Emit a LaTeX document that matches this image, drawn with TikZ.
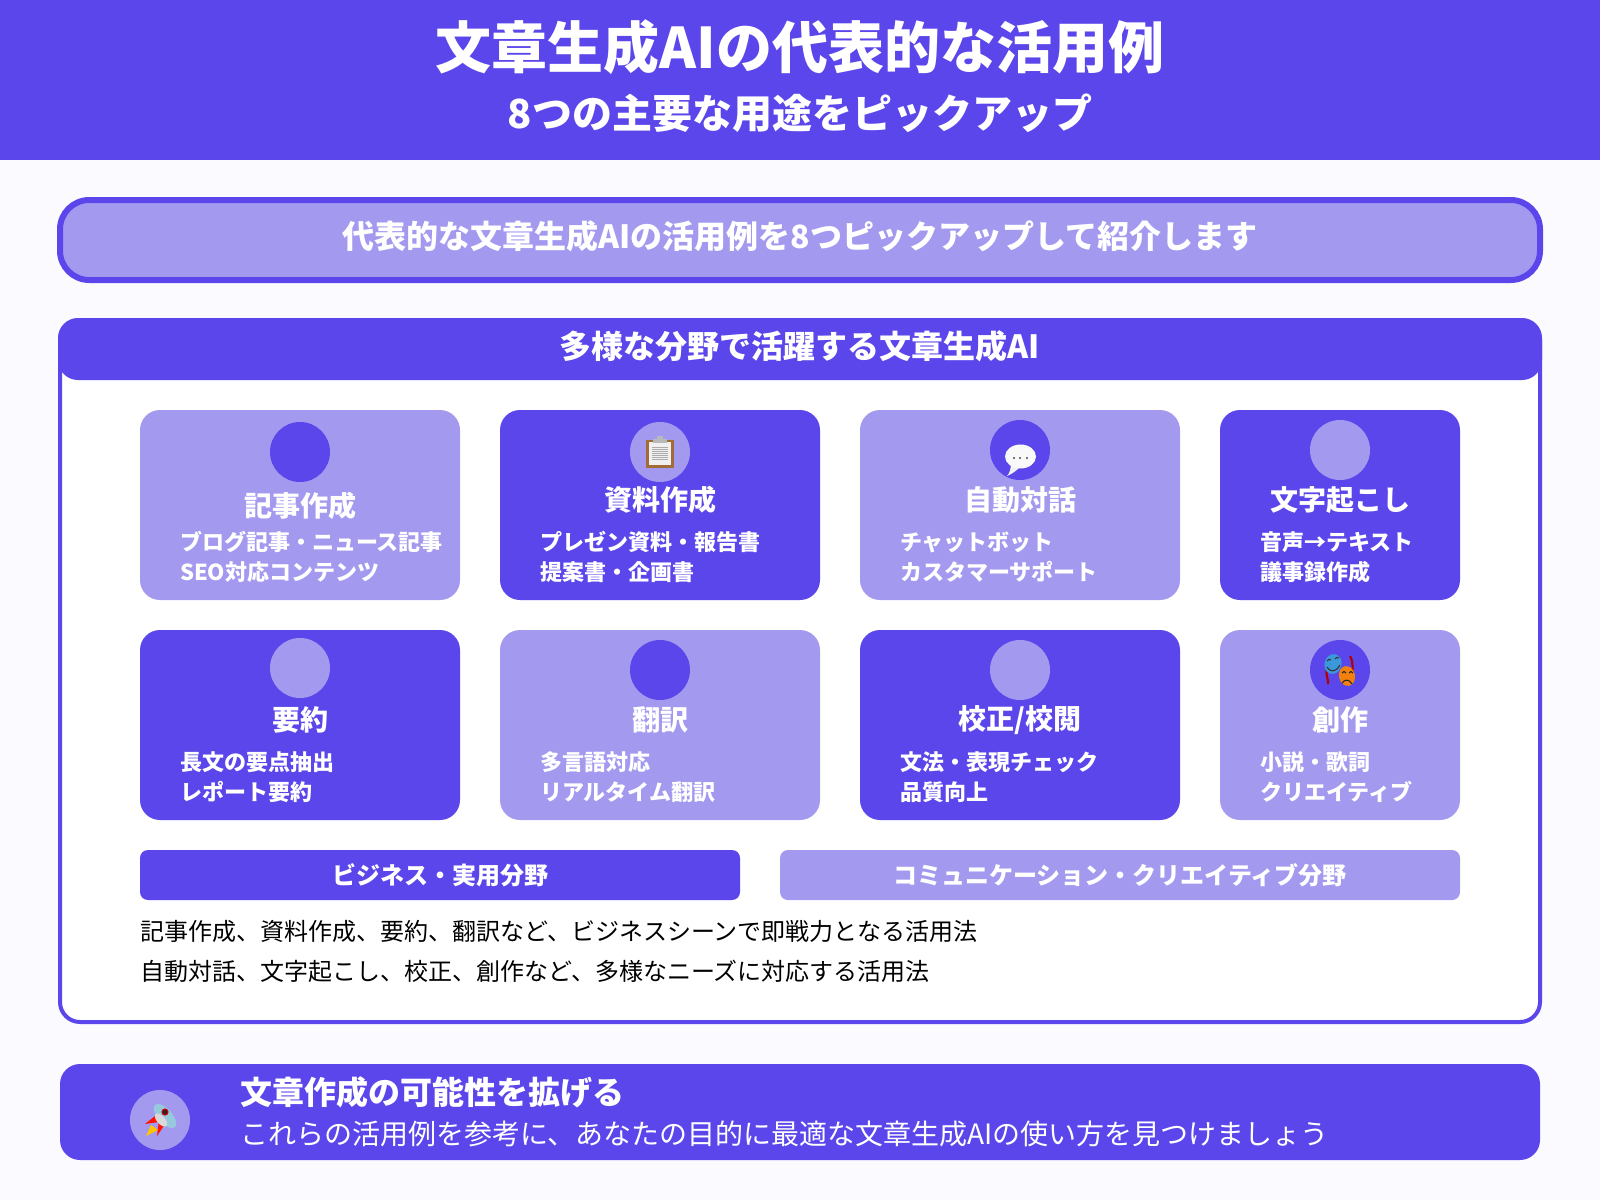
\documentclass[tikz,border=0pt]{standalone}
\usepackage{fontspec}
\setmainfont{Noto Sans CJK JP}
\definecolor{brand}{HTML}{5B46EB}
\definecolor{soft}{HTML}{A39AF0}
\definecolor{page}{HTML}{FAFAFF}
\newcommand\vh{\vphantom{国}}
\tikzset{
  t/.style={inner sep=0pt,outer sep=0pt,text=white,font=\bfseries},
  f56/.style={font=\bfseries\fontsize{42}{50}\selectfont},
  f40/.style={font=\bfseries\fontsize{30}{36}\selectfont},
  f32/.style={font=\bfseries\fontsize{24}{29}\selectfont},
  f28/.style={font=\bfseries\fontsize{21}{25}\selectfont},
  f24/.style={font=\bfseries\fontsize{18}{22}\selectfont},
  f22/.style={font=\bfseries\fontsize{16.5}{20}\selectfont},
  plain24/.style={font=\fontsize{18}{22}\selectfont,text=black},
  plain28/.style={font=\fontsize{21}{25}\selectfont},
  boxr/.style={rectangle,inner sep=0pt,outer sep=0pt,rounded corners=15pt},
  disc/.style={circle,inner sep=0pt,outer sep=0pt,minimum size=45pt},
}
% id, x, w, top, h, box colour, disc colour, disc centre y
\newcommand\cardbox[8]{%
  \node[boxr,fill=#6,minimum width=#3*0.75pt,minimum height=#5*0.75pt] (#1) at ({#2+#3/2},{#4+#5/2}) {};
  \node[disc,fill=#7] (#1disc) at ({#2+#3/2},#8) {};
}
% id, x, w, title, line 1, line 2, title y, line 1 y
\newcommand\cardtext[8]{%
  \node[t,f28] (#1title) at ({#2+#3/2},#7) {\vh #4};
  \node[t,f22,anchor=west] (#1a) at ({#2+40},#8) {\vh #5};
  \node[t,f22,anchor=west] (#1b) at ({#2+40},{#8+30}) {\vh #6};
}
\begin{document}
\begin{tikzpicture}[x=0.75pt,y=-0.75pt]
\useasboundingbox (0,0) rectangle (1600,1200);
\fill[page] (0,0) rectangle (1600,1200);
% header
\node[rectangle,fill=brand,inner sep=0pt,minimum width=1200pt,minimum height=120pt] (head) at (800,80) {};
\node[t,f56] (title) at (800,47) {\vh 文章生成AIの代表的な活用例};
\node[t,f40] (subtitle) at (800,113) {\vh 8つの主要な用途をピックアップ};
% intro
\node[boxr,rounded corners=22pt,draw=brand,line width=4.5pt,fill=soft,minimum width=1110pt,minimum height=60pt] (intro) at (800,240) {};
\node[t,f32] (introtext) at (800,236) {\vh 代表的な文章生成AIの活用例を8つピックアップして紹介します};
% main panel
\node[boxr,draw=brand,line width=3pt,fill=white,minimum width=1110pt,minimum height=526.5pt] (panel) at (800,671) {};
\node[boxr,fill=brand,minimum width=1113pt,minimum height=46.5pt] (band) at (800,349) {};
\node[t,f32] (bandtext) at (800,346) {\vh 多様な分野で活躍する文章生成AI};
% cards
\cardbox{c1}{140}{320}{410}{190}{soft}{brand}{452}
\cardbox{c2}{500}{320}{410}{190}{brand}{soft}{452}
\cardbox{c3}{860}{320}{410}{190}{soft}{brand}{450}
\cardbox{c4}{1220}{240}{410}{190}{brand}{soft}{450}
\cardbox{c5}{140}{320}{630}{190}{brand}{soft}{668}
\cardbox{c6}{500}{320}{630}{190}{soft}{brand}{670}
\cardbox{c7}{860}{320}{630}{190}{brand}{soft}{670}
\cardbox{c8}{1220}{240}{630}{190}{soft}{brand}{670}
\cardtext{c1}{140}{320}{記事作成}{ブログ記事・ニュース記事}{SEO対応コンテンツ}{506}{542}
\cardtext{c2}{500}{320}{資料作成}{プレゼン資料・報告書}{提案書・企画書}{500}{542}
\cardtext{c3}{860}{320}{自動対話}{チャットボット}{カスタマーサポート}{500}{542}
\cardtext{c4}{1220}{240}{文字起こし}{音声→テキスト}{議事録作成}{500}{542}
\cardtext{c5}{140}{320}{要約}{長文の要点抽出}{レポート要約}{720}{762}
\cardtext{c6}{500}{320}{翻訳}{多言語対応}{リアルタイム翻訳}{720}{762}
\cardtext{c7}{860}{320}{校正/校閲}{文法・表現チェック}{品質向上}{720}{762}
\cardtext{c8}{1220}{240}{創作}{小説・歌詞}{クリエイティブ}{720}{762}
% clipboard icon
\fill[brown!85!black] (646,440) rectangle (674,468);
\fill[white!88!gray] (649,442) rectangle (671,465);
\foreach \yy in {447,449,451,453,455,457,459} \draw[gray!65,line width=.5pt] (652,\yy) -- (668,\yy);
\fill[gray!55] (653,439) rectangle (667,443);
\fill[gray!55] (657,436) rectangle (663,439);
% speech bubble icon
\fill[white!90!gray] (1007,476) .. controls (1010,473) and (1011,468) .. (1011,462) -- (1020,467) .. controls (1016,471) and (1012,474) .. (1007,476) -- cycle;
\fill[white!95!gray] (1020.5,456.5) ellipse[x radius=15.5,y radius=12];
\foreach \xx in {1014,1020,1027} \fill[black!70] (\xx,458) circle[radius=1.2];
% masks icon
\draw[red!70!black,line width=1.6pt] (1327,668) .. controls (1325,675) and (1329,680) .. (1328,684);
\draw[red!70!black,line width=1.6pt] (1350,656) .. controls (1354,663) and (1352,670) .. (1353,676);
\fill[cyan!70!blue!80!white,rotate around={-15:(1333,664)}] (1333,664) ellipse[x radius=8.5,y radius=10];
\draw[black!80,line width=.8pt] (1327,667) .. controls (1331,673) and (1336,672) .. (1340,665);
\draw[black!80,line width=.8pt] (1327,661) .. controls (1328,659) and (1330,659) .. (1331,660) (1335,659) .. controls (1336,657) and (1338,657) .. (1339,658);
\fill[orange!80!brown,rotate around={12:(1347,676)}] (1347,676) ellipse[x radius=8,y radius=10];
\draw[black!85,line width=.8pt] (1342,683) .. controls (1345,679) and (1349,679) .. (1352,684);
\draw[black!85,line width=.8pt] (1342,673) .. controls (1343,671) and (1345,671) .. (1346,673) (1349,673) .. controls (1350,671) and (1352,671) .. (1353,673);
% bars
\node[boxr,rounded corners=6pt,fill=brand,minimum width=450pt,minimum height=37.5pt] (barl) at (440,875) {};
\node[t,f24] (barltext) at (440,875) {\vh ビジネス・実用分野};
\node[boxr,rounded corners=6pt,fill=soft,minimum width=510pt,minimum height=37.5pt] (barr) at (1120,875) {};
\node[t,f24] (barrtext) at (1120,875) {\vh コミュニケーション・クリエイティブ分野};
\node[inner sep=0pt,plain24,anchor=west] (note1) at (140,931) {\vh 記事作成、資料作成、要約、翻訳など、ビジネスシーンで即戦力となる活用法};
\node[inner sep=0pt,plain24,anchor=west] (note2) at (140,971) {\vh 自動対話、文字起こし、校正、創作など、多様なニーズに対応する活用法};
% footer
\node[boxr,fill=brand,minimum width=1110pt,minimum height=72pt] (foot) at (800,1112) {};
\node[disc,fill=soft] (footdisc) at (160,1120) {};
\node[t,f32,anchor=west] (foottitle) at (240,1092) {\vh 文章作成の可能性を拡げる};
\node[inner sep=0pt,text=white,plain28,anchor=west] (footsub) at (240,1134) {\vh これらの活用例を参考に、あなたの目的に最適な文章生成AIの使い方を見つけましょう};
% rocket icon
\fill[orange!45!yellow] (146,1136) -- (151,1125) -- (158,1130) -- cycle;
\fill[red!85!orange] (145,1124) -- (155,1116) -- (159,1122) -- cycle;
\fill[red!85!orange] (157,1136) -- (165,1124) -- (159,1120) -- cycle;
\fill[gray!45!cyan!60!white,rotate around={42:(165,1116)}] (165,1116) ellipse[x radius=7,y radius=15];
\fill[gray!30!white,rotate around={42:(161,1120)}] (161,1120) ellipse[x radius=4,y radius=8];
\fill[black!85,draw=red!80!black,line width=.8pt] (165,1112) circle[radius=3];
\end{tikzpicture}
\end{document}
